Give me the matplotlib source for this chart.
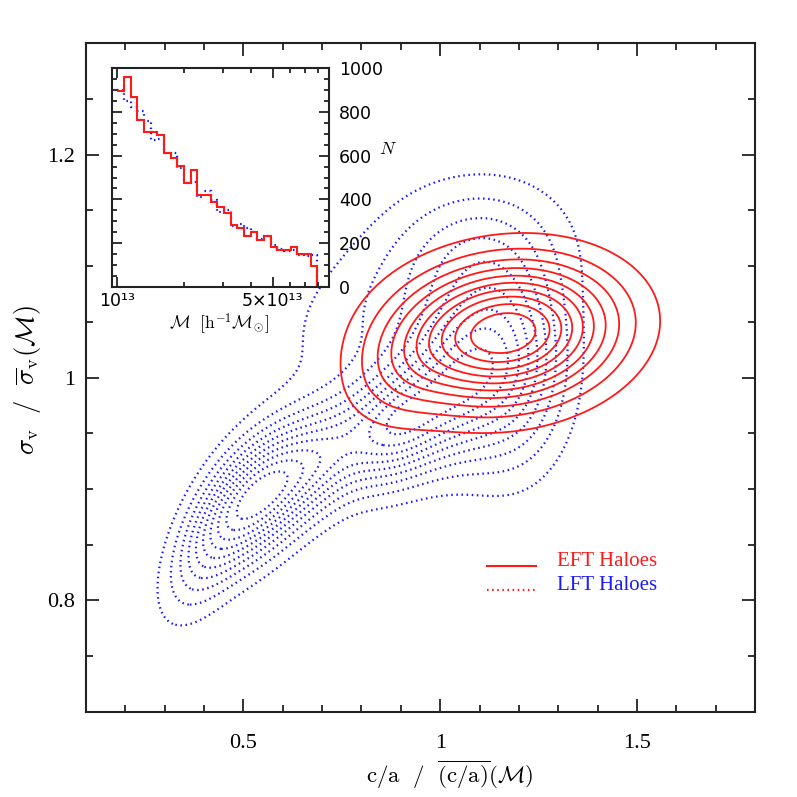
import numpy as np
import matplotlib
matplotlib.use("Agg")
import matplotlib.pyplot as plt
from matplotlib.ticker import MultipleLocator, FixedLocator, NullFormatter, FuncFormatter

plt.rcParams['font.family'] = ['Liberation Serif', 'DejaVu Serif']
plt.rcParams['mathtext.fontset'] = 'cm'

# ---------------- data ----------------
# inset histogram: log10 mass bin edges and counts
log_mass_edges = [13.00, 13.03, 13.06, 13.09, 13.12, 13.15, 13.18, 13.21, 13.24, 13.27,
                  13.30, 13.33, 13.36, 13.39, 13.42, 13.45, 13.48, 13.51, 13.54, 13.57,
                  13.60, 13.63, 13.66, 13.69, 13.72, 13.75, 13.78, 13.81, 13.84, 13.87,
                  13.90, 13.93]
eft_counts = [897, 960, 867, 765, 709, 709, 694, 614, 588, 553, 477, 533, 420, 420, 389,
              367, 336, 283, 270, 233, 250, 212, 233, 182, 167, 167, 182, 152, 152, 94, 0]
lft_counts = [901, 848, 821, 803, 758, 670, 674, 614, 611, 542, 474, 480, 412, 436, 398,
              344, 351, 280, 288, 268, 250, 220, 230, 189, 174, 164, 167, 144, 139, 144, 0]

# smoothed density of the main panel, described by Gaussian components
eft_cx = [1.165, 0.90]
eft_cy = [1.040, 1.005]
eft_sx = [0.180, 0.10]
eft_sy = [0.041, 0.035]
eft_rho = [0.12, 0.3]
eft_w = [1.0, 0.12]
eft_levels = [1/11, 2/11, 3/11, 4/11, 5/11, 6/11, 7/11, 8/11, 9/11, 10/11]

lft_cx = [0.420, 0.550, 0.700, 0.880, 1.030, 1.170, 0.950, 1.080]
lft_cy = [0.855, 0.895, 0.925, 0.955, 0.990, 1.010, 1.070, 1.120]
lft_sx = [0.080, 0.090, 0.080, 0.090, 0.090, 0.100, 0.230, 0.140]
lft_sy = [0.045, 0.040, 0.035, 0.035, 0.045, 0.060, 0.060, 0.040]
lft_rho = [0.60, 0.50, 0.40, 0.30, 0.20, 0.00, 0.40, 0.00]
lft_w = [0.45, 1.00, 0.50, 0.80, 0.60, 0.65, 0.25, 0.20]
lft_levels = [1/11, 2/11, 3/11, 4/11, 5/11, 6/11, 7/11, 8/11, 9/11, 10/11]

RED = '#ff1a1a'
BLUE = '#1a1aff'


def density(X, Y, cx, cy, sx, sy, rho, w):
    Z = np.zeros_like(X)
    for a, b, s1, s2, r, ww in zip(cx, cy, sx, sy, rho, w):
        dx = (X - a) / s1
        dy = (Y - b) / s2
        q = (dx**2 - 2*r*dx*dy + dy**2) / (1 - r**2)
        Z += ww * np.exp(-0.5*q)
    return Z / Z.max()


fig = plt.figure(figsize=(7.97, 7.97), dpi=100)
ax = fig.add_axes([86/797, 85.3/797, 669/797, 668.4/797])
ax.set_xlim(0.1, 1.8)
ax.set_ylim(0.7, 1.3)

xg = np.linspace(0.1, 1.8, 600)
yg = np.linspace(0.7, 1.3, 600)
X, Y = np.meshgrid(xg, yg)
Zb = density(X, Y, lft_cx, lft_cy, lft_sx, lft_sy, lft_rho, lft_w)
Zr = density(X, Y, eft_cx, eft_cy, eft_sx, eft_sy, eft_rho, eft_w)

ax.contour(X, Y, Zb, levels=lft_levels, colors=BLUE, linewidths=1.6,
           linestyles=[(0, (0.7, 1.6))])
ax.contour(X, Y, Zr, levels=eft_levels, colors=RED, linewidths=1.3, linestyles='solid')

ax.xaxis.set_major_locator(MultipleLocator(0.5))
ax.xaxis.set_minor_locator(MultipleLocator(0.1))
ax.yaxis.set_major_locator(MultipleLocator(0.2))
ax.yaxis.set_minor_locator(MultipleLocator(0.05))
fmt = FuncFormatter(lambda v, p: '%g' % round(v, 3))
ax.xaxis.set_major_formatter(fmt)
ax.yaxis.set_major_formatter(fmt)
ax.tick_params(which='both', direction='in', top=True, right=True, width=1.3, color='#222222')
ax.tick_params(which='major', length=9.5, labelsize=16)
ax.tick_params(axis='x', which='major', pad=16)
ax.tick_params(axis='y', which='major', pad=8)
ax.tick_params(which='minor', length=4.8)
for s in ax.spines.values():
    s.set_linewidth(1.5)
    s.set_color('#222222')

fig.text(450/797, 1 - 775/797, r'$\mathrm{c/a}\ \ /\ \ \overline{(\mathrm{c/a})}(\mathcal{M})$',
         ha='center', va='center', fontsize=16.5)
fig.text(28/797, 1 - 380/797, r'$\sigma_{\rm v}\ \ /\ \ \overline{\sigma}_{\rm v}(\mathcal{M})$',
         ha='center', va='center', rotation=90, fontsize=19)

# legend
lx0, lx1 = 487, 536
fig.add_artist(plt.Line2D([lx0/797, lx1/797], [1 - 566/797, 1 - 566/797],
                          transform=fig.transFigure, color=RED, lw=1.5))
fig.add_artist(plt.Line2D([lx0/797, lx1/797], [1 - 590/797, 1 - 590/797],
                          transform=fig.transFigure, color=RED, lw=1.6, ls=(0, (0.7, 1.6))))
fig.text(557/797, 1 - 561/797, 'EFT Haloes', color=RED, fontsize=15, va='center', ha='left')
fig.text(557/797, 1 - 585/797, 'LFT Haloes', color=BLUE, fontsize=15, va='center', ha='left')

# inset
axi = fig.add_axes([111.7/797, 1 - 286.7/797, 217.6/797, 218.4/797])
edges = 10**np.array(log_mass_edges)
axi.stairs(lft_counts, edges, baseline=None, color=BLUE, lw=1.6, ls=(0, (0.7, 1.6)))
axi.stairs(eft_counts, edges, baseline=None, color=RED, lw=1.5)
axi.set_xscale('log')
axi.set_xlim(10**12.975, 9e13)
axi.set_ylim(0, 1000)
axi.xaxis.set_major_locator(FixedLocator([1e13, 5e13]))
axi.xaxis.set_minor_locator(FixedLocator([2e13, 3e13, 4e13, 6e13, 7e13, 8e13, 9e13]))
axi.xaxis.set_major_formatter(FuncFormatter(lambda v, p: {1e13: '10¹³', 5e13: '5×10¹³'}.get(v, '')))
axi.xaxis.set_minor_formatter(NullFormatter())
axi.yaxis.set_major_locator(MultipleLocator(200))
axi.yaxis.set_minor_locator(MultipleLocator(50))
axi.tick_params(which='both', direction='in', top=True, right=True, left=True,
                labelleft=False, labelright=True, width=1.3, color='#222222')
axi.tick_params(which='major', length=7, labelsize=12.5)
axi.tick_params(which='minor', length=3.8)
axi.tick_params(axis='y', pad=7)
axi.tick_params(axis='x', pad=4)
for lab in axi.get_xticklabels() + axi.get_yticklabels():
    lab.set_family(['DejaVu Sans'])
for s in axi.spines.values():
    s.set_linewidth(1.5)
    s.set_color('#222222')

fig.text(219/797, 1 - 324/797, r'$\mathcal{M}\ \ [\mathrm{h}^{-1}\mathcal{M}_{\odot}]$',
         ha='center', va='center', fontsize=12.5)
fig.text(388/797, 1 - 150/797, r'$N$', ha='center', va='center', fontsize=13)

fig.savefig('out.png', dpi=100)
